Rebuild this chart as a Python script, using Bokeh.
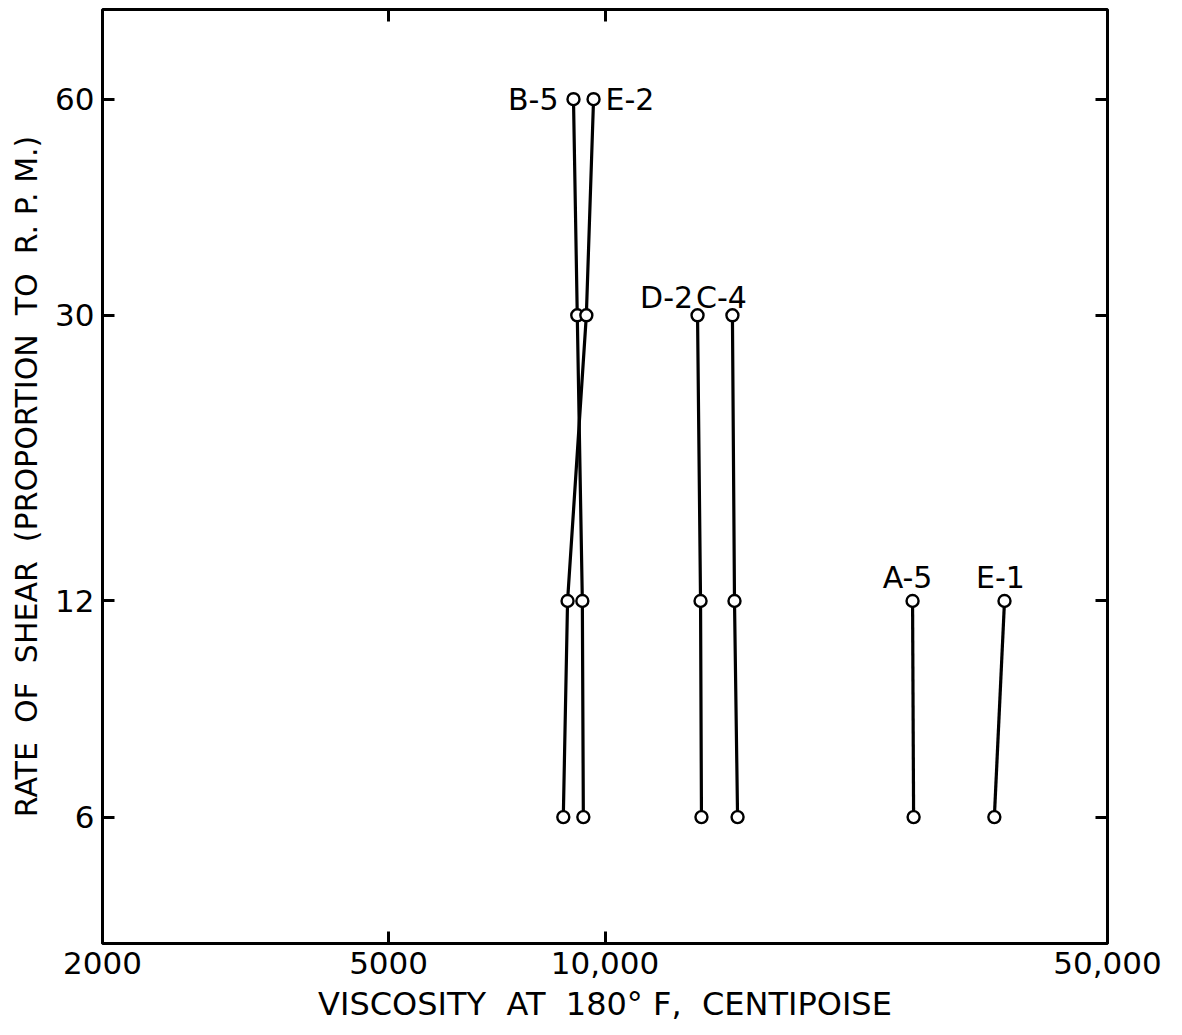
from bokeh.plotting import figure
from bokeh.models import LogAxis, FixedTicker, ColumnDataSource
from bokeh.core.properties import value
from bokeh.embed import file_html
from bokeh.resources import INLINE

# ---- data ----
shear_rates = [60, 30, 12, 6]
b5_visc = [9040, 9150, 9300, 9330]
e2_visc = [9640, 9420, 8870, 8750]
d2_rates = [30, 12, 6]
d2_visc = [13450, 13580, 13620]
c4_rates = [30, 12, 6]
c4_visc = [15040, 15140, 15290]
a5_rates = [12, 6]
a5_visc = [26780, 26870]
e1_rates = [12, 6]
e1_visc = [35950, 34800]

series_names = ["B-5", "E-2", "D-2", "C-4", "A-5", "E-1"]
x_ticks = [2000, 5000, 10000, 50000]
x_tick_labels = ["2000", "5000", "10,000", "50,000"]
y_ticks = [6, 12, 30, 60]
y_tick_labels = ["6", "12", "30", "60"]

series = [
    (b5_visc, shear_rates),
    (e2_visc, shear_rates),
    (d2_visc, d2_rates),
    (c4_visc, c4_rates),
    (a5_visc, a5_rates),
    (e1_visc, e1_rates),
]

# label placement (pixel offsets from each series' top point) and alignment
label_offsets = [(-15, 0, "right"), (12, 0, "left"), (-31, -18, "center"),
                 (-11, -18, "center"), (-5, -23, "center"), (-4, -23, "center")]

FONT = "DejaVu Sans"
NB = "\u00a0"

p = figure(width=1182, height=1035, x_axis_type="log", y_axis_type="log",
           x_range=(2000, 50000), y_range=(4.0, 80.0),
           output_backend="svg", toolbar_location=None,
           min_border_left=102, min_border_right=75,
           min_border_top=9, min_border_bottom=92)

p.background_fill_color = "white"
p.border_fill_color = "white"
p.outline_line_color = "black"
p.outline_line_width = 3
p.xgrid.visible = False
p.ygrid.visible = False

for xs, ys in series:
    p.line(xs, ys, line_color="black", line_width=3.2)
    p.scatter(xs, ys, size=12, marker="circle", fill_color="white",
              line_color="black", line_width=2.4)

for name, (xs, ys), (dx, dy, align) in zip(series_names, series, label_offsets):
    src = ColumnDataSource(dict(x=[xs[0]], y=[ys[0]], t=[name]))
    p.text(x="x", y="y", text="t", source=src, x_offset=dx, y_offset=dy,
           text_align=align, text_baseline="middle",
           text_font=value(FONT), text_font_size="30px", text_color="black")

def style_axis(ax):
    ax.minor_tick_line_color = None
    ax.major_tick_in = 12
    ax.major_tick_out = 0
    ax.major_tick_line_width = 3
    ax.major_tick_line_color = "black"
    ax.axis_line_color = None

# bottom axis
xa = p.xaxis[0]
xa.ticker = FixedTicker(ticks=x_ticks)
xa.major_label_overrides = {t: l for t, l in zip(x_ticks, x_tick_labels)}
style_axis(xa)
xa.major_label_text_font = FONT
xa.major_label_text_font_size = "31px"
xa.major_label_text_color = "black"
xa.major_label_standoff = 8
xa.axis_label = f"VISCOSITY{NB} AT{NB} 180° F,{NB} CENTIPOISE"
xa.axis_label_text_font = FONT
xa.axis_label_text_font_size = "32px"
xa.axis_label_text_font_style = "normal"
xa.axis_label_text_color = "black"
xa.axis_label_standoff = 8

# left axis
ya = p.yaxis[0]
ya.ticker = FixedTicker(ticks=y_ticks)
ya.major_label_overrides = {t: l for t, l in zip(y_ticks, y_tick_labels)}
style_axis(ya)
ya.major_label_text_font = FONT
ya.major_label_text_font_size = "31px"
ya.major_label_text_color = "black"
ya.major_label_standoff = 8
ya.axis_label = f"RATE{NB} OF{NB} SHEAR{NB} (PROPORTION{NB} TO{NB} R. P. M.)"
ya.axis_label_text_font = FONT
ya.axis_label_text_font_size = "30px"
ya.axis_label_text_font_style = "normal"
ya.axis_label_text_color = "black"
ya.axis_label_standoff = 8

# right and top axes: tick marks only
ra = LogAxis(ticker=FixedTicker(ticks=y_ticks))
ra.major_label_text_font_size = "0px"
ra.major_label_text_color = None
style_axis(ra)
p.add_layout(ra, "right")

ta = LogAxis(ticker=FixedTicker(ticks=[5000, 10000]))
ta.major_label_text_font_size = "0px"
ta.major_label_text_color = None
style_axis(ta)
p.add_layout(ta, "above")

open("out.html", "w").write(file_html(p, INLINE))
